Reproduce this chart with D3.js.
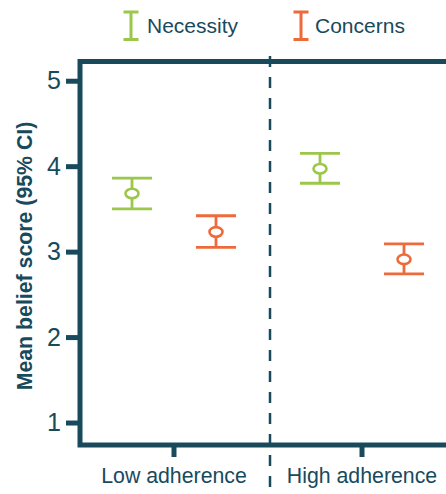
<!DOCTYPE html>
<html>
<head>
<meta charset="utf-8">
<script src="https://cdn.jsdelivr.net/npm/d3@7"></script>
<style>
  body { margin: 0; background: #fff; }
  svg { display: block; font-family: 'Liberation Sans', Arial, sans-serif; }
</style>
</head>
<body>
<div id="chart"></div>
<script>
const categories = ['Low adherence', 'High adherence'];
const series = ['Necessity', 'Concerns'];
const necessityMean = [3.68, 3.97];
const necessityLow = [3.50, 3.80];
const necessityHigh = [3.86, 4.15];
const concernsMean = [3.23, 2.91];
const concernsLow = [3.05, 2.74];
const concernsHigh = [3.42, 3.09];
const yTicks = [1, 2, 3, 4, 5];

const dark = '#184a5c';
const colors = { Necessity: '#9bc74a', Concerns: '#ee6a3a' };

const width = 446, height = 494;
const svg = d3.select('#chart').append('svg')
  .attr('width', width)
  .attr('height', height);

const x = d3.scaleBand().domain(categories).range([80, 456]);
const xSub = d3.scalePoint().domain(series).range([-42, 42]);
const y = d3.scaleLinear().domain([0.737, 5.225]).range([445, 61.5]);

// dashed separator between groups
svg.append('line')
  .attr('x1', 270).attr('x2', 270)
  .attr('y1', 56).attr('y2', 492)
  .attr('stroke', dark)
  .attr('stroke-width', 2.5)
  .attr('stroke-dasharray', '11,10');

// y axis
const yAxis = svg.append('g')
  .attr('transform', 'translate(80,0)')
  .call(d3.axisLeft(y).tickValues(yTicks).tickSize(14).tickPadding(5).tickFormat(d3.format('d')));
yAxis.select('.domain').remove();
yAxis.selectAll('line').attr('stroke', dark).attr('stroke-width', 5);
yAxis.selectAll('text').attr('fill', dark).style('font-size', '25px');

// x axis
const xAxis = svg.append('g')
  .attr('transform', 'translate(0,445)')
  .call(d3.axisBottom(x).tickSize(12).tickPadding(11));
xAxis.select('.domain').remove();
xAxis.selectAll('line').attr('stroke', dark).attr('stroke-width', 5);
xAxis.selectAll('text').attr('fill', dark).style('font-size', '21.3px');

// frame
svg.append('rect')
  .attr('x', 80).attr('y', 61.5)
  .attr('width', 376).attr('height', 383.5)
  .attr('fill', 'none')
  .attr('stroke', dark)
  .attr('stroke-width', 5);

// y label
svg.append('text')
  .attr('transform', 'translate(32,256) rotate(-90)')
  .attr('text-anchor', 'middle')
  .attr('fill', dark)
  .style('font-size', '21.3px')
  .style('font-weight', 'bold')
  .text('Mean belief score (95% CI)');

const data = [];
categories.forEach((c, i) => {
  data.push({ cat: c, s: 'Necessity', mean: necessityMean[i], lo: necessityLow[i], hi: necessityHigh[i] });
  data.push({ cat: c, s: 'Concerns', mean: concernsMean[i], lo: concernsLow[i], hi: concernsHigh[i] });
});

const cx = d => x(d.cat) + x.bandwidth() / 2 + xSub(d.s);
const capW = 20;

const g = svg.append('g').selectAll('g').data(data).join('g')
  .attr('stroke', d => colors[d.s])
  .attr('stroke-width', 2.8);
g.append('line')
  .attr('x1', cx).attr('x2', cx)
  .attr('y1', d => y(d.hi)).attr('y2', d => y(d.lo));
g.append('line')
  .attr('x1', d => cx(d) - capW).attr('x2', d => cx(d) + capW)
  .attr('y1', d => y(d.hi)).attr('y2', d => y(d.hi));
g.append('line')
  .attr('x1', d => cx(d) - capW).attr('x2', d => cx(d) + capW)
  .attr('y1', d => y(d.lo)).attr('y2', d => y(d.lo));
g.append('ellipse')
  .attr('cx', cx).attr('cy', d => y(d.mean))
  .attr('rx', 6.5).attr('ry', 4.8)
  .attr('fill', '#fff')
  .attr('stroke-width', 2.6);

// legend
const legendX = [131, 301];
const legendTextX = [16, 14];
const leg = svg.append('g').selectAll('g').data(series).join('g')
  .attr('transform', (d, i) => `translate(${legendX[i]},0)`);
leg.append('path')
  .attr('d', 'M-7.5,12H7.5M0,12V39.5M-7.5,39.5H7.5')
  .attr('fill', 'none')
  .attr('stroke', d => colors[d])
  .attr('stroke-width', 3);
leg.append('text')
  .attr('x', (d, i) => legendTextX[i]).attr('y', 33)
  .attr('fill', dark)
  .style('font-size', '21px')
  .text(d => d);
</script>
</body>
</html>
